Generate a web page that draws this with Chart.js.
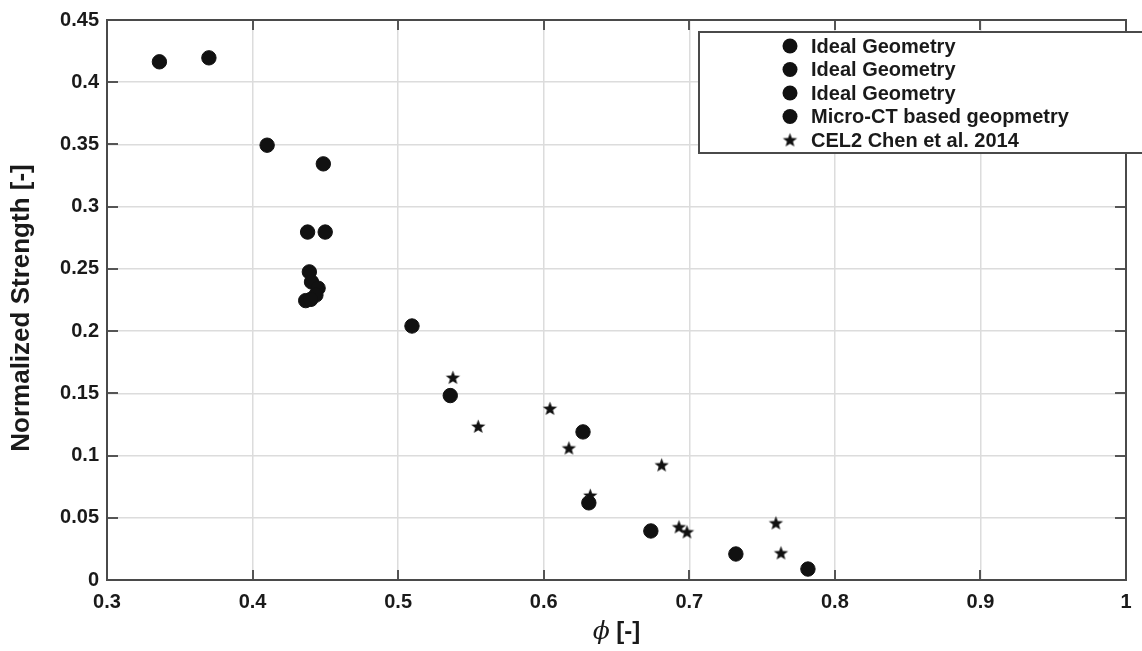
<!DOCTYPE html>
<html>
<head>
<meta charset="utf-8">
<script src="https://cdn.jsdelivr.net/npm/chart.js@4.4.1/dist/chart.umd.min.js"></script>
<style>
  html, body { margin: 0; padding: 0; background: #fff; }
  #wrap { width: 1142px; height: 651px; }
</style>
</head>
<body>
<div id="wrap"><canvas id="chart" width="1142" height="651"></canvas></div>
<script>
// values
const ideal1X = [0.336, 0.370, 0.410, 0.4486];
const ideal1Y = [0.4164, 0.4196, 0.3494, 0.3344];
const ideal2X = [0.4378, 0.4499, 0.5095, 0.5358];
const ideal2Y = [0.2796, 0.2796, 0.2041, 0.1482];
const ideal3X = [0.627, 0.631, 0.6736, 0.732, 0.7815];
const ideal3Y = [0.119, 0.062, 0.0394, 0.0209, 0.0088];
const microX = [0.439, 0.4405, 0.445, 0.4435, 0.4365, 0.440];
const microY = [0.2476, 0.2395, 0.2345, 0.229, 0.2245, 0.2255];
const chenX = [0.5376, 0.555, 0.6043, 0.6173, 0.632, 0.681, 0.6929, 0.6984, 0.7595, 0.763];
const chenY = [0.1627, 0.1234, 0.1378, 0.106, 0.068, 0.0924, 0.0426, 0.0386, 0.0458, 0.0217];

const seriesLabels = ["Ideal Geometry", "Ideal Geometry", "Ideal Geometry", "Micro-CT based geopmetry", "CEL2 Chen et al. 2014"];
const xTicks = [0.3, 0.4, 0.5, 0.6, 0.7, 0.8, 0.9, 1];
const yTicks = [0, 0.05, 0.1, 0.15, 0.2, 0.25, 0.3, 0.35, 0.4, 0.45];

const FONT = "'Liberation Sans', Arial, Helvetica, sans-serif";
const INK = "#111111";
const FRAME = "#4a4a4a";

function toPoints(xs, ys) {
    return xs.map((x, i) => ({ x: x, y: ys[i] }));
}

// filled five-point star used as a point style
function makeStar(r) {
    const size = Math.ceil(r * 2 + 2);
    const c = document.createElement("canvas");
    c.width = size;
    c.height = size;
    const g = c.getContext("2d");
    const cx = size / 2, cy = size / 2 + 0.5, inner = r * 0.42;
    g.beginPath();
    for (let i = 0; i < 10; i++) {
        const rad = i % 2 === 0 ? r : inner;
        const a = -Math.PI / 2 + i * Math.PI / 5;
        const px = cx + rad * Math.cos(a), py = cy + rad * Math.sin(a);
        if (i === 0) g.moveTo(px, py); else g.lineTo(px, py);
    }
    g.closePath();
    g.fillStyle = INK;
    g.fill();
    return c;
}
const starImg = makeStar(7.5);

function circleSet(label, xs, ys) {
    return {
        label: label,
        data: toPoints(xs, ys),
        pointStyle: "circle",
        pointRadius: 7.2,
        pointHoverRadius: 7.2,
        borderWidth: 1,
        borderColor: INK,
        backgroundColor: INK,
    };
}

// frame, inward ticks, axis titles and the boxed legend
const decorations = {
    id: "decorations",
    afterDraw(chart) {
        const ctx = chart.ctx;
        const a = chart.chartArea;
        const xs = chart.scales.x, ys = chart.scales.y;
        ctx.save();

        ctx.strokeStyle = "#555";
        ctx.lineWidth = 2;
        ctx.beginPath();
        xTicks.slice(1, -1).forEach(v => {
            const px = Math.round(xs.getPixelForValue(v));
            ctx.moveTo(px, a.bottom); ctx.lineTo(px, a.bottom - 10);
            ctx.moveTo(px, a.top); ctx.lineTo(px, a.top + 10);
        });
        yTicks.slice(1, -1).forEach(v => {
            const py = Math.round(ys.getPixelForValue(v));
            ctx.moveTo(a.left, py); ctx.lineTo(a.left + 11, py);
            ctx.moveTo(a.right, py); ctx.lineTo(a.right - 11, py);
        });
        ctx.stroke();

        ctx.strokeStyle = FRAME;
        ctx.lineWidth = 2;
        ctx.strokeRect(a.left, a.top, a.right - a.left, a.bottom - a.top);

        // y title
        ctx.fillStyle = "#1a1a1a";
        ctx.translate(22, (a.top + a.bottom) / 2 + 8);
        ctx.rotate(-Math.PI / 2);
        ctx.font = "bold 26px " + FONT;
        ctx.textAlign = "center";
        ctx.textBaseline = "middle";
        ctx.fillText("Normalized Strength [-]", 0, 0);
        ctx.setTransform(1, 0, 0, 1, 0, 0);

        // x title: italic phi + bold [-]
        const phiFont = "italic 25px 'DejaVu Serif', 'Liberation Serif', serif";
        const restFont = "bold 24px " + FONT;
        ctx.font = phiFont;
        const wPhi = ctx.measureText("\u03D5").width;
        ctx.font = restFont;
        const wRest = ctx.measureText(" [-]").width;
        let tx = (a.left + a.right) / 2 - (wPhi + wRest) / 2;
        ctx.textAlign = "left";
        ctx.textBaseline = "middle";
        ctx.font = phiFont;
        ctx.fillText("\u03D5", tx, 632);
        ctx.font = restFont;
        ctx.fillText(" [-]", tx + wPhi, 632);

        // legend box
        const bx = 699, by = 32, bw = chart.width - bx + 2, bh = 121;
        ctx.fillStyle = "#fff";
        ctx.fillRect(bx, by, bw, bh);
        ctx.strokeStyle = FRAME;
        ctx.lineWidth = 2;
        ctx.strokeRect(bx, by, bw, bh);
        ctx.font = "bold 20px " + FONT;
        ctx.textBaseline = "middle";
        chart.data.datasets.forEach((ds, i) => {
            const ry = by + 14 + i * 23.5;
            if (ds.pointStyle === "circle") {
                ctx.beginPath();
                ctx.arc(790, ry, 7.5, 0, Math.PI * 2);
                ctx.fillStyle = INK;
                ctx.fill();
            } else {
                ctx.drawImage(starImg, 790 - starImg.width / 2, ry - starImg.height / 2);
            }
            ctx.fillStyle = "#1a1a1a";
            ctx.fillText(ds.label, 811, ry + 1);
        });
        ctx.restore();
    }
};

document.addEventListener("DOMContentLoaded", () => {
    const ctx = document.getElementById("chart").getContext("2d");
    new Chart(ctx, {
        type: "scatter",
        data: {
            datasets: [
                circleSet(seriesLabels[0], ideal1X, ideal1Y),
                circleSet(seriesLabels[1], ideal2X, ideal2Y),
                circleSet(seriesLabels[2], ideal3X, ideal3Y),
                circleSet(seriesLabels[3], microX, microY),
                {
                    label: seriesLabels[4],
                    data: toPoints(chenX, chenY),
                    pointStyle: starImg,
                    pointRadius: 8,
                    pointHoverRadius: 8,
                    borderColor: INK,
                    backgroundColor: INK,
                },
            ],
        },
        options: {
            responsive: false,
            animation: false,
            devicePixelRatio: 1,
            layout: { padding: { top: 20, right: 16, left: 0, bottom: 0 } },
            plugins: {
                legend: { display: false },
                tooltip: { enabled: false },
            },
            scales: {
                x: {
                    type: "linear",
                    min: xTicks[0],
                    max: xTicks[xTicks.length - 1],
                    afterBuildTicks: s => { s.ticks = xTicks.map(v => ({ value: v })); },
                    afterFit: s => { s.height = 71; },
                    grid: { color: "#dcdcdc", lineWidth: 1.5, drawTicks: false },
                    border: { display: false },
                    ticks: {
                        padding: 10,
                        color: "#1a1a1a",
                        font: { family: FONT, size: 20, weight: "bold" },
                        callback: v => String(Math.round(v * 10) / 10),
                    },
                },
                y: {
                    type: "linear",
                    min: yTicks[0],
                    max: yTicks[yTicks.length - 1],
                    afterBuildTicks: s => { s.ticks = yTicks.map(v => ({ value: v })); },
                    afterFit: s => { s.width = 107; },
                    grid: { color: "#dcdcdc", lineWidth: 1.5, drawTicks: false },
                    border: { display: false },
                    ticks: {
                        padding: 8,
                        color: "#1a1a1a",
                        font: { family: FONT, size: 20, weight: "bold" },
                        callback: v => String(Math.round(v * 100) / 100),
                    },
                },
            },
        },
        plugins: [decorations],
    });
});
</script>
</body>
</html>
